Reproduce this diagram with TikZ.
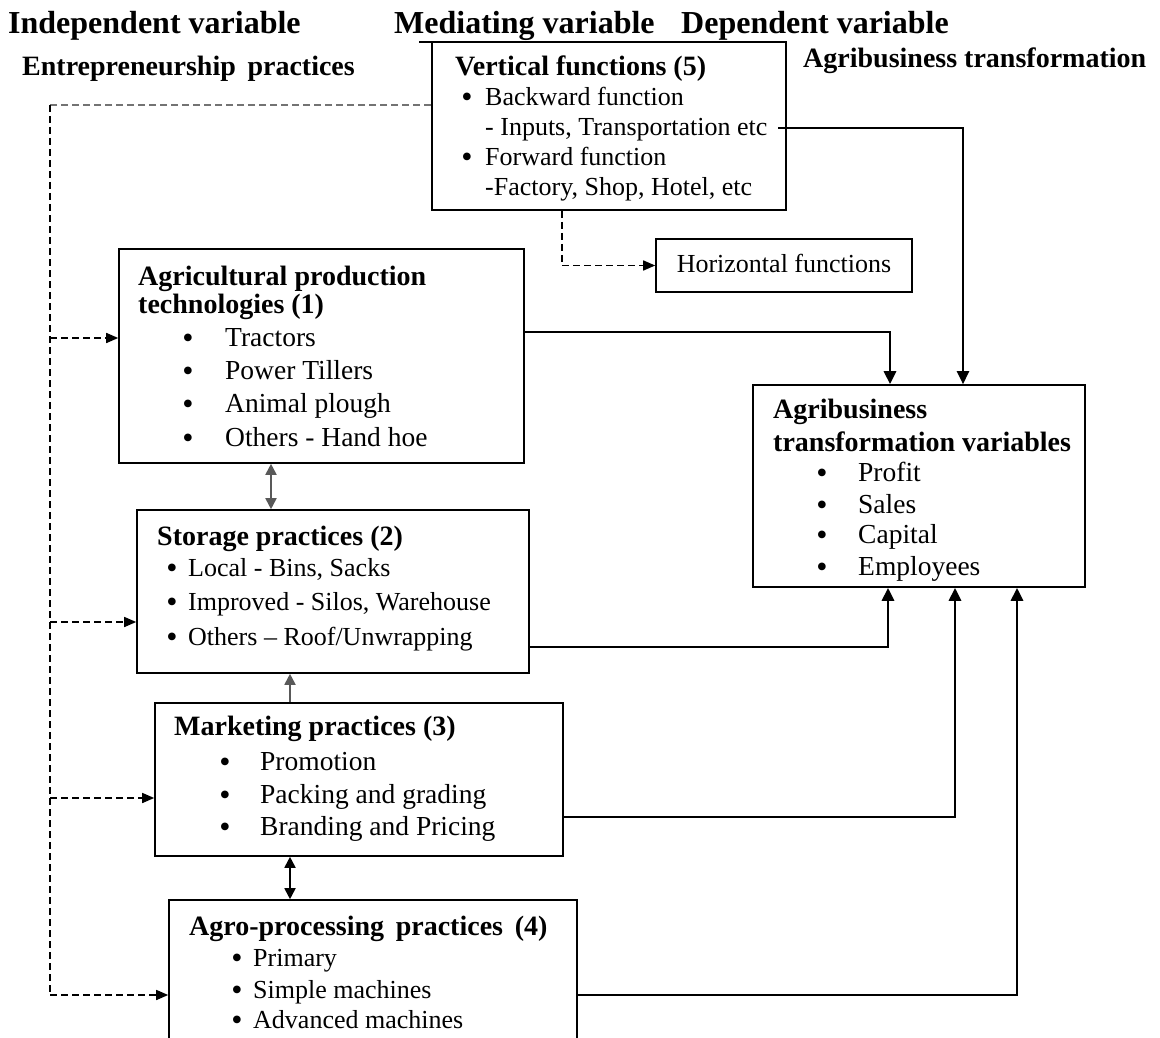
\documentclass[tikz,border=0pt]{standalone}
\usepackage{fontspec}
\setmainfont{Liberation Serif}
\usetikzlibrary{arrows.meta,fit}
\newcommand\hdrf{\fontsize{32}{38}\selectfont\bfseries}
\newcommand\subf{\fontsize{28}{32}\selectfont\bfseries}
\newcommand\ttlf{\fontsize{28}{32}\selectfont\bfseries}
\newcommand\bdyf{\fontsize{27.5}{32}\selectfont}
\newcommand\smlf{\fontsize{26}{30}\selectfont}
\newcommand\bulf{\fontsize{32}{34}\selectfont}
\begin{document}
\begin{tikzpicture}[x=1pt,y=-1pt,
  box/.style={draw, line width=1.6pt, inner sep=0pt},
  tx/.style={inner sep=0pt, anchor=mid west},
  bul/.style={inner sep=0pt, anchor=center, font=\bulf, yshift=3pt},
  hd/.style={inner sep=0pt, anchor=base west},
  flow/.style={line width=2.8pt, -{Triangle[length=13pt,width=12pt]}},
  dsh/.style={line width=1.5pt, dash pattern=on 7pt off 4pt},
  dtip/.style={-{Triangle[length=12pt,width=10pt]}},
  thin/.style={line width=1.8pt, draw=black!65},
  dtips/.style={{Triangle[length=11pt,width=11pt]}-{Triangle[length=11pt,width=11pt]}},
  stip/.style={-{Triangle[length=11pt,width=11pt]}}
  ]
\useasboundingbox (0,0) rectangle (1160,1038);
\clip (0,0) rectangle (1160,1038);
\fill[white] (0,0) rectangle (1160,1038);

% headers
\node[hd, font=\hdrf] (h1) at (8,34) {Independent variable};
\node[hd, font=\hdrf] (h2) at (394,34) {Mediating variable};
\node[hd, font=\hdrf] (h3) at (681,34) {Dependent variable};
\coordinate (ul1) at (419,42);
\coordinate (ul2) at (773,42);
\draw[line width=1.6pt] (ul1) -- (ul2);
\node[hd, font=\subf] (s1) at (22,76) {Entrepreneurship\, practices};
\node[hd, font=\subf] (s2) at (803,68) {Agribusiness transformation};

% boxes
\node[box, fit={(432,42) (786,210)}] (vf) {};
\node[box, fit={(656,239) (912,292)}] (hf) {};
\node[box, fit={(119,249) (524,463)}] (agri) {};
\node[box, fit={(137,510) (529,673)}] (stor) {};
\node[box, fit={(155,703) (563,856)}] (mkt) {};
\node[box, fit={(169,900) (577,1070)}] (agro) {};
\node[box, fit={(753,385) (1085,587)}] (atv) {};

% vertical functions text
\node[tx, font=\ttlf] (vft) at (455,73) {Vertical functions (5)};
\node[bul] (vfb1) at (467,103) {\textbullet};
\node[tx, font=\smlf] (vf1) at (485,103) {Backward function};
\node[tx, font=\smlf] (vf2) at (485,133) {- Inputs, Transportation etc};
\node[bul] (vfb3) at (467,163) {\textbullet};
\node[tx, font=\smlf] (vf3) at (485,163) {Forward function};
\node[tx, font=\smlf] (vf4) at (485,193) {-Factory, Shop, Hotel, etc};

% horizontal functions
\node[inner sep=0pt, anchor=mid, font=\smlf] (hft) at ([yshift=-5pt]hf.center) {Horizontal functions};

% agricultural production technologies
\node[tx, font=\ttlf] (agt1) at (138,283) {Agricultural production};
\node[tx, font=\ttlf] (agt2) at (138,311) {technologies (1)};
\node[bul] (agb1) at (188,344) {\textbullet};
\node[tx, font=\bdyf] (ag1) at (225,344) {Tractors};
\node[bul] (agb2) at (188,377) {\textbullet};
\node[tx, font=\bdyf] (ag2) at (225,377) {Power Tillers};
\node[bul] (agb3) at (188,410) {\textbullet};
\node[tx, font=\bdyf] (ag3) at (225,410) {Animal plough};
\node[bul] (agb4) at (188,444) {\textbullet};
\node[tx, font=\bdyf] (ag4) at (225,444) {Others - Hand hoe};

% storage practices
\node[tx, font=\ttlf] (stt) at (157,543) {Storage practices (2)};
\node[bul] (stb1) at (172,574) {\textbullet};
\node[tx, font=\smlf] (st1) at (188,574) {Local - Bins, Sacks};
\node[bul] (stb2) at (172,608) {\textbullet};
\node[tx, font=\smlf] (st2) at (188,608) {Improved - Silos, Warehouse};
\node[bul] (stb3) at (172,643) {\textbullet};
\node[tx, font=\smlf] (st3) at (188,643) {Others -- Roof/Unwrapping};

% marketing practices
\node[tx, font=\ttlf] (mkt0) at (174,733) {Marketing practices (3)};
\node[bul] (mkb1) at (225,768) {\textbullet};
\node[tx, font=\bdyf] (mk1) at (260,768) {Promotion};
\node[bul] (mkb2) at (225,801) {\textbullet};
\node[tx, font=\bdyf] (mk2) at (260,801) {Packing and grading};
\node[bul] (mkb3) at (225,833) {\textbullet};
\node[tx, font=\bdyf] (mk3) at (260,833) {Branding and Pricing};

% agro-processing practices
\node[tx, font=\ttlf] (agrt) at (189,933) {Agro-processing\, practices\, (4)};
\node[bul] (arb1) at (237,964) {\textbullet};
\node[tx, font=\smlf] (ar1) at (253,964) {Primary};
\node[bul] (arb2) at (237,996) {\textbullet};
\node[tx, font=\smlf] (ar2) at (253,996) {Simple machines};
\node[bul] (arb3) at (237,1026) {\textbullet};
\node[tx, font=\smlf] (ar3) at (253,1026) {Advanced machines};

% agribusiness transformation variables
\node[tx, font=\ttlf] (att1) at (773,416) {Agribusiness};
\node[tx, font=\ttlf] (att2) at (773,449) {transformation variables};
\node[bul] (atb1) at (822,479) {\textbullet};
\node[tx, font=\bdyf] (at1) at (858,479) {Profit};
\node[bul] (atb2) at (822,511) {\textbullet};
\node[tx, font=\bdyf] (at2) at (858,511) {Sales};
\node[bul] (atb3) at (822,541) {\textbullet};
\node[tx, font=\bdyf] (at3) at (858,541) {Capital};
\node[bul] (atb4) at (822,573) {\textbullet};
\node[tx, font=\bdyf] (at4) at (858,573) {Employees};

% coordinates for connectors
\coordinate (L1) at (50,105);
\coordinate (L2) at (50,995);
\coordinate (da) at (50,338);
\coordinate (ds) at (50,622);
\coordinate (dm) at (50,798);
\coordinate (dg) at (50,995);
\coordinate (hv) at (562,0);
\coordinate (ya) at (0,332);
\coordinate (xa) at (890,0);
\coordinate (bk) at (778,128);
\coordinate (xb) at (963,0);
\coordinate (ys) at (0,647);
\coordinate (xs) at (888,0);
\coordinate (ym) at (0,817);
\coordinate (xm) at (955,0);
\coordinate (yg) at (0,995);
\coordinate (xg) at (1017,0);
\coordinate (x1) at (271,0);
\coordinate (x2) at (290,0);

% dashed connectors
\draw[dsh, draw=black!55] (vf.west |- L1) -- (L1);
\draw[dsh] (L1) -- (L2);
\draw[dsh, dtip] (da) -- (agri.west |- da);
\draw[dsh, dtip] (ds) -- (stor.west |- ds);
\draw[dsh, dtip] (dm) -- (mkt.west |- dm);
\draw[dsh, dtip] (dg) -- (agro.west |- dg);
\draw[dsh, dtip] (vf.south -| hv) |- (hf.west);

% solid connectors to dependent variable
\draw[flow] (agri.east |- ya) -| (xa |- atv.north);
\draw[flow, line width=2.4pt] (bk) -| (xb |- atv.north);
\draw[flow] (stor.east |- ys) -| (xs |- atv.south);
\draw[flow] (mkt.east |- ym) -| (xm |- atv.south);
\draw[flow] (agro.east |- yg) -| (xg |- atv.south);

% links between practices
\draw[thin, dtips] (agri.south -| x1) -- (stor.north -| x1);
\draw[thin, stip] (mkt.north -| x2) -- (stor.south -| x2);
\draw[line width=1.8pt, dtips] (mkt.south -| x2) -- (agro.north -| x2);
\end{tikzpicture}
\end{document}
